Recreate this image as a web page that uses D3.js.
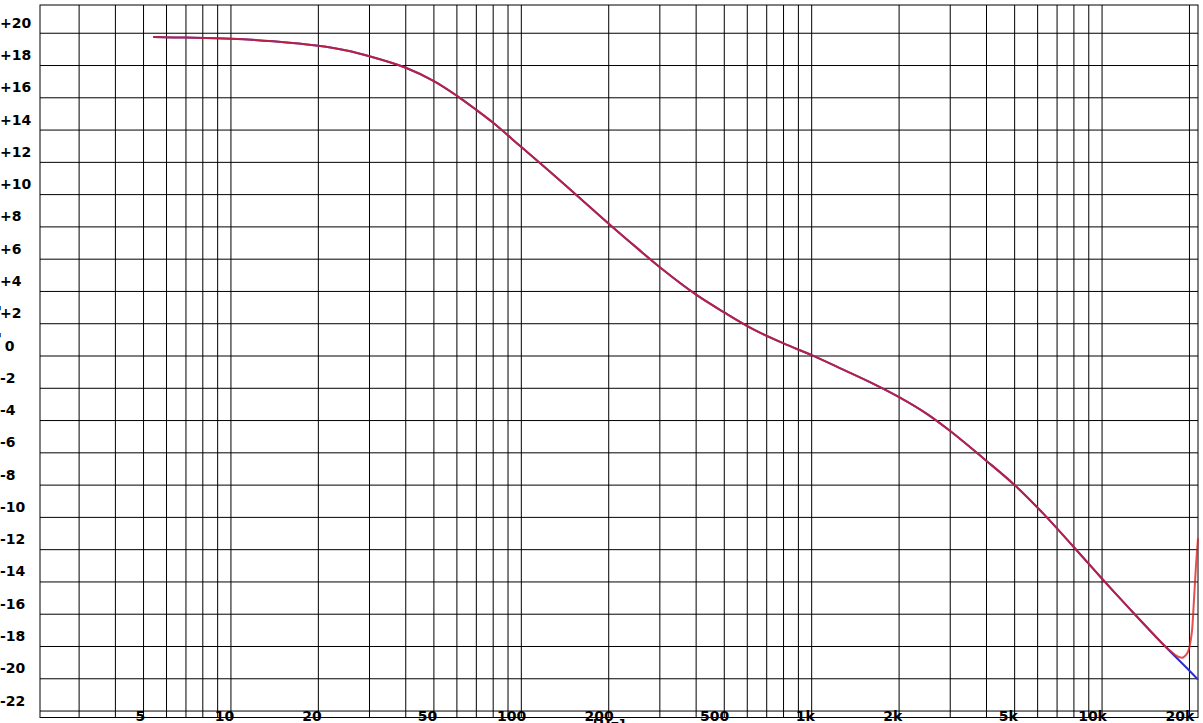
<!DOCTYPE html>
<html>
<head>
<meta charset="utf-8">
<script src="https://cdn.jsdelivr.net/npm/d3@7/dist/d3.min.js"></script>
<style>
  html, body { margin: 0; padding: 0; background: #fff; }
  svg { display: block; }
  text { font-family: "DejaVu Sans", Verdana, sans-serif; font-weight: bold; font-size: 14px; fill: #000; }
</style>
</head>
<body>
<svg id="chart" width="1203" height="723"></svg>
<script>
// ---- data ----
const xTickValues = [5, 10, 20, 50, 100, 200, 500, 1000, 2000, 5000, 10000, 20000];
const xTickLabels = ["5", "10", "20", "50", "100", "200", "500", "1k", "2k", "5k", "10k", "20k"];
const yTickValues = [20, 18, 16, 14, 12, 10, 8, 6, 4, 2, 0, -2, -4, -6, -8, -10, -12, -14, -16, -18, -20, -22];

const freqBlue = [5.4, 7, 10, 14, 20, 25, 30, 40, 50, 60, 70, 80, 100, 125, 160, 200, 250, 300, 400, 500, 630, 800, 1000, 1250, 1600, 2000, 2500, 3000, 4000, 5000, 6300, 8000, 10000, 12500, 16000, 20000, 21400];
const dbBlue   = [19.76, 19.73, 19.66, 19.5, 19.22, 18.93, 18.57, 17.86, 17.03, 16.12, 15.25, 14.45, 12.95, 11.45, 9.75, 8.2, 6.7, 5.5, 3.8, 2.7, 1.65, 0.78, 0.05, -0.75, -1.65, -2.55, -3.6, -4.65, -6.5, -8.0, -9.8, -11.85, -13.8, -15.7, -17.75, -19.5, -20.05];

const freqRed = [5.4, 7, 10, 14, 20, 25, 30, 40, 50, 60, 70, 80, 100, 125, 160, 200, 250, 300, 400, 500, 630, 800, 1000, 1250, 1600, 2000, 2500, 3000, 4000, 5000, 6300, 8000, 10000, 12500, 16000, 17000, 17800, 18500, 19000, 19500, 19800, 20100, 20400, 20700, 21050, 21400];
const dbRed   = [19.76, 19.73, 19.66, 19.5, 19.22, 18.93, 18.57, 17.86, 17.03, 16.12, 15.25, 14.45, 12.95, 11.45, 9.75, 8.2, 6.7, 5.5, 3.8, 2.7, 1.65, 0.78, 0.05, -0.75, -1.65, -2.55, -3.6, -4.65, -6.5, -8.0, -9.8, -11.85, -13.8, -15.7, -17.75, -18.2, -18.5, -18.67, -18.68, -18.5, -18.3, -17.85, -17.05, -15.3, -13.05, -11.3];

// ---- layout ----
const svg = d3.select("#chart");
const plotL = 40, plotR = 1198, plotT = 5, plotB = 717.5;

const x = d3.scaleLog().domain([2.2, 21400]).range([plotL, plotR]);
const y = d3.scaleLinear().domain([-22.4, 21.75]).range([plotB, plotT]);

// vertical grid lines: every 1-9 multiple within the domain
const gridFreqs = [];
[1, 10, 100, 1000, 10000].forEach(dec => {
  for (let m = 1; m <= 9; m++) {
    const f = m * dec;
    if (f > x.domain()[0] && f < x.domain()[1]) gridFreqs.push(f);
  }
});

const grid = svg.append("g");
grid.selectAll("line.v").data(gridFreqs).join("line").attr("class", "v")
  .attr("x1", d => x(d)).attr("x2", d => x(d))
  .attr("y1", plotT).attr("y2", plotB)
  .attr("stroke", "#000").attr("stroke-width", 1);

grid.selectAll("line.h").data(yTickValues).join("line").attr("class", "h")
  .attr("x1", plotL).attr("x2", plotR)
  .attr("y1", d => y(d)).attr("y2", d => y(d))
  .attr("stroke", "#000").attr("stroke-width", 1);

// frame
svg.append("rect")
  .attr("x", plotL).attr("y", plotT)
  .attr("width", plotR - plotL).attr("height", plotB - plotT)
  .attr("fill", "none").attr("stroke", "#000").attr("stroke-width", 1);

// curves
const line = d3.line().x(d => x(d[0])).y(d => y(d[1])).curve(d3.curveCatmullRom.alpha(0.5));
const blue = freqBlue.map((f, i) => [f, dbBlue[i]]);
const red = freqRed.map((f, i) => [f, dbRed[i]]);

svg.append("path").datum(blue).attr("d", line)
  .attr("fill", "none").attr("stroke", "#2b2bd0").attr("stroke-width", 2);
svg.append("path").datum(red).attr("d", line)
  .attr("fill", "none").attr("stroke", "#e01c1c").attr("stroke-opacity", 0.78).attr("stroke-width", 2);

// y tick labels
const yFmt = d => d > 0 ? "+" + d : (d < 0 ? "-" + Math.abs(d) : " 0");
svg.append("g").selectAll("text").data(yTickValues).join("text")
  .attr("x", 0).attr("y", d => y(d) - 5.5)
  .style("white-space", "pre")
  .attr("text-anchor", "start")
  .text(yFmt);

// x tick labels
const xl = svg.append("g").selectAll("text").data(xTickValues).join("text")
  .attr("y", 720.5)
  .attr("text-anchor", "start")
  .text((d, i) => xTickLabels[i]);
xl.each(function(d) {
  const w = this.getComputedTextLength();
  d3.select(this).attr("x", x(d) - w * 0.83);
});

// axis titles (mostly outside the visible area)
svg.append("text")
  .attr("x", 609).attr("y", 729.5)
  .attr("text-anchor", "middle")
  .text("[Hz]");
svg.append("text")
  .attr("transform", "translate(-1,345) rotate(-90)")
  .attr("text-anchor", "middle")
  .text("Level [dB]");
</script>
</body>
</html>
